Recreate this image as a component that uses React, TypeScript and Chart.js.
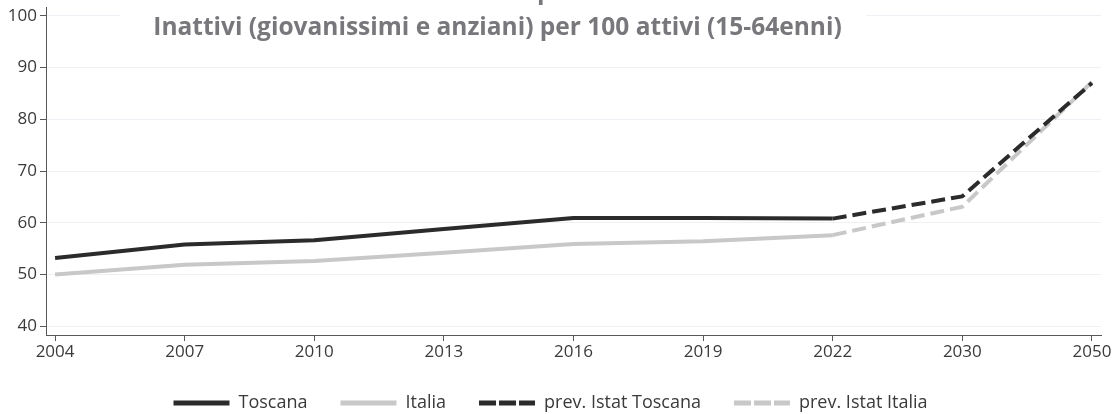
import React, { useEffect, useRef } from "react";
import { Chart, registerables } from "chart.js";

Chart.register(...registerables);

// ---- data ----
const years = ["2004", "2007", "2010", "2013", "2016", "2019", "2022", "2030", "2050"];
const toscana = [53.2, 55.8, 56.6, 58.8, 60.9, 60.9, 60.8, null, null];
const italia = [50.0, 51.9, 52.6, 54.2, 55.9, 56.4, 57.6, null, null];
const prevToscana = [null, null, null, null, null, null, 60.8, 65.1, 87.0];
const prevItalia = [null, null, null, null, null, null, 57.6, 63.1, 87.2];
const yTicks = [40, 50, 60, 70, 80, 90, 100];
const seriesNames = ["Toscana", "Italia", "prev. Istat Toscana", "prev. Istat Italia"];
const titleLines = ["Indice di dipendenza", "Inattivi (giovanissimi e anziani) per 100 attivi (15-64enni)"];

const DARK = "#2b2b2b";
const LIGHT = "#c8c8c8";
const TEXT = "#3a3a3a";
const AXIS = "#595959";
const FONT = "'Open Sans', 'Noto Sans', sans-serif";

const toPoints = (arr: (number | null)[]) => arr.map((v, i) => ({ x: i, y: v }));

const titlePlugin = {
  id: "boxTitle",
  afterDraw(chart: any) {
    const ctx = chart.ctx;
    ctx.save();
    ctx.fillStyle = "#ffffff";
    ctx.fillRect(120, 0, 746, 44);
    ctx.fillStyle = "#78787c";
    ctx.font = `bold 24.5px ${FONT}`;
    ctx.textAlign = "center";
    ctx.textBaseline = "alphabetic";
    ctx.fillText(titleLines[0], 530, -1);
    ctx.fillText(titleLines[1], 497.5, 35);
    ctx.restore();
  },
};

export default function App() {
  const ref = useRef<HTMLCanvasElement | null>(null);

  useEffect(() => {
    if (!ref.current) return;
    const styles = [
      { color: DARK, dash: [] as number[], legendDash: [] as number[] },
      { color: LIGHT, dash: [], legendDash: [] },
      { color: DARK, dash: [14, 6], legendDash: [17, 3] },
      { color: LIGHT, dash: [14, 6], legendDash: [17, 3] },
    ];
    const values = [toscana, italia, prevToscana, prevItalia];
    const chart = new Chart(ref.current, {
      type: "line",
      data: {
        datasets: values.map((arr, i) => ({
          label: seriesNames[i],
          data: toPoints(arr),
          borderColor: styles[i].color,
          backgroundColor: styles[i].color,
          borderWidth: 4,
          borderDash: styles[i].dash,
          borderCapStyle: "butt",
          borderJoinStyle: "round",
          pointRadius: 0,
          pointHoverRadius: 0,
          tension: 0,
          spanGaps: false,
          fill: false,
        })),
      },
      options: {
        responsive: false,
        animation: false,
        layout: { padding: { top: 7, right: 11, left: 0, bottom: 0 } },
        plugins: {
          title: { display: false },
          tooltip: { enabled: false },
          legend: {
            display: true,
            position: "bottom",
            maxHeight: 53,
            labels: {
              usePointStyle: true,
              pointStyle: "line",
              pointStyleWidth: 56,
              padding: 33,
              color: TEXT,
              font: { family: FONT, size: 18 },
              generateLabels: () =>
                seriesNames.map((name, i) => ({
                  text: name,
                  fillStyle: styles[i].color,
                  strokeStyle: styles[i].color,
                  lineWidth: 5,
                  lineDash: styles[i].legendDash,
                  lineCap: "butt",
                  pointStyle: "line",
                  fontColor: TEXT,
                  hidden: false,
                  datasetIndex: i,
                })),
            },
          },
        },
        scales: {
          x: {
            type: "linear",
            min: -0.07,
            max: 8.07,
            afterBuildTicks: (s: any) => {
              s.ticks = years.map((_, i) => ({ value: i }));
            },
            afterFit: (s: any) => {
              s.height = 26;
              s.paddingLeft = 0;
              s.paddingRight = 0;
            },
            ticks: {
              autoSkip: false,
              maxRotation: 0,
              padding: 3,
              color: TEXT,
              font: { family: FONT, size: 17, lineHeight: 1 },
              callback: (v: any) => years[v as number],
            },
            grid: { drawOnChartArea: false, drawTicks: true, tickLength: 6, tickColor: AXIS },
            border: { color: AXIS, width: 1 },
          },
          y: {
            min: 38.3,
            max: 101.7,
            afterBuildTicks: (s: any) => {
              s.ticks = yTicks.map((v) => ({ value: v }));
            },
            afterFit: (s: any) => {
              s.width = 46;
              s.paddingTop = 0;
              s.paddingBottom = 0;
            },
            ticks: {
              padding: 3,
              color: TEXT,
              font: { family: FONT, size: 17 },
            },
            grid: { color: "#edf1f5", lineWidth: 1, tickColor: AXIS, tickLength: 6 },
            border: { color: AXIS, width: 1 },
          },
        },
      },
      plugins: [titlePlugin],
    } as any);
    return () => chart.destroy();
  }, []);

  return (
    <div style={{ position: "fixed", left: 0, top: 0, width: 1112, height: 414, background: "#fff" }}>
      <canvas ref={ref} width={1112} height={414} style={{ display: "block" }} />
    </div>
  );
}
